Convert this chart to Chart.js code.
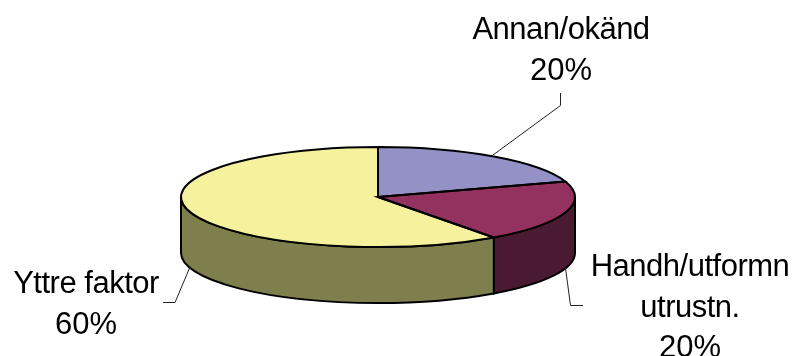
<!DOCTYPE html>
<html>
<head>
<meta charset="utf-8">
<style>
  html, body { margin: 0; padding: 0; background: #fff; }
  canvas { display: block; }
</style>
<script src="https://cdn.jsdelivr.net/npm/chart.js@4/dist/chart.umd.min.js"></script>
</head>
<body>
<canvas id="chart" width="794" height="356"></canvas>
<script>
const categories = ["Annan/okänd", "Handh/utformn utrustn.", "Yttre faktor"];
const values = [20, 20, 60];
const topColors = ["#9391C5", "#93315F", "#F5F19D"];
const sideColors = ["#4A4963", "#4A1932", "#7F7F4D"];

// where the labels go, lines of text are split by hand like in the original
const labelLines = [["Annan/okänd"], ["Handh/utformn", "utrustn."], ["Yttre faktor"]];
const labelPos = [
  { x: 561, y: 39, leader: [[560.5, 93], [560.5, 105.5], [493, 155]] },
  { x: 690, y: 276, leader: [[565.5, 268], [570.5, 305.5], [583, 305.5]] },
  { x: 86, y: 293, leader: [[163, 302.5], [175, 302.5], [190, 267]] }
];
const depth = 56;
const lineGap = 40.5;

// the pie box is wider than tall, the x scale stretches the circle into it
function squash(chart) {
  const arc = chart.getDatasetMeta(0).data[0];
  const area = chart.chartArea;
  return { cx: arc.x, cy: arc.y, rx: area.width / 2, ry: arc.outerRadius };
}

const pie3d = {
  id: "pie3d",
  beforeDatasetsDraw(chart) {
    const ctx = chart.ctx;
    const s = squash(chart);
    ctx.save();
    chart.getDatasetMeta(0).data.forEach((arc, i) => {
      const a = Math.max(arc.startAngle, 0);
      const b = Math.min(arc.endAngle, Math.PI);
      if (b <= a) return;
      ctx.beginPath();
      ctx.ellipse(s.cx, s.cy, s.rx, s.ry, 0, a, b);
      ctx.ellipse(s.cx, s.cy + depth, s.rx, s.ry, 0, b, a, true);
      ctx.closePath();
      ctx.fillStyle = sideColors[i];
      ctx.strokeStyle = "#000";
      ctx.lineWidth = 2;
      ctx.fill();
      ctx.stroke();
    });
    ctx.restore();
  },
  beforeDatasetDraw(chart) {
    const ctx = chart.ctx;
    const s = squash(chart);
    ctx.save();
    ctx.translate(s.cx, s.cy);
    ctx.scale(s.rx / s.ry, 1);
    ctx.translate(-s.cx, -s.cy);
  },
  afterDatasetDraw(chart) {
    chart.ctx.restore();
  },
  afterDatasetsDraw(chart) {
    const ctx = chart.ctx;
    const s = squash(chart);
    const total = values.reduce((p, c) => p + c, 0);
    ctx.save();
    chart.getDatasetMeta(0).data.forEach((arc, i) => {
      // slice outline
      ctx.beginPath();
      ctx.moveTo(s.cx, s.cy);
      ctx.ellipse(s.cx, s.cy, s.rx, s.ry, 0, arc.startAngle, arc.endAngle);
      ctx.closePath();
      ctx.strokeStyle = "#000";
      ctx.lineWidth = 2;
      ctx.stroke();

      // leader line
      const pos = labelPos[i];
      ctx.beginPath();
      pos.leader.forEach((p, j) => j ? ctx.lineTo(p[0], p[1]) : ctx.moveTo(p[0], p[1]));
      ctx.strokeStyle = "#222";
      ctx.lineWidth = 1;
      ctx.stroke();

      // label + percent, the words run a little tighter than the numbers
      ctx.font = '31px "Liberation Sans", Arial, sans-serif';
      ctx.fillStyle = "#000";
      ctx.textAlign = "center";
      ctx.textBaseline = "alphabetic";
      ctx.letterSpacing = "-0.5px";
      labelLines[i].forEach((t, j) => ctx.fillText(t, pos.x, pos.y + j * lineGap));
      ctx.letterSpacing = "0px";
      const pct = Math.round(values[i] / total * 100) + "%";
      ctx.fillText(pct, pos.x, pos.y + labelLines[i].length * lineGap);
    });
    ctx.restore();
  }
};

new Chart(document.getElementById("chart"), {
  type: "pie",
  data: {
    labels: categories,
    datasets: [{
      data: values,
      backgroundColor: topColors,
      borderWidth: 0,
      clip: false
    }]
  },
  options: {
    responsive: false,
    animation: false,
    layout: { padding: { left: 181, right: 219, top: 147, bottom: 109 } },
    plugins: { legend: { display: false }, tooltip: { enabled: false } }
  },
  plugins: [pie3d]
});
</script>
</body>
</html>
